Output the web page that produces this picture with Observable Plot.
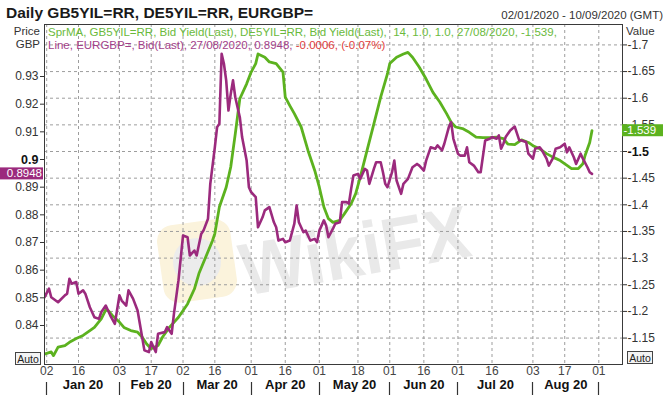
<!DOCTYPE html>
<html><head><meta charset="utf-8">
<script src="https://cdn.jsdelivr.net/npm/d3@7"></script>
<script src="https://cdn.jsdelivr.net/npm/@observablehq/plot@0.6"></script>
<style>
html,body{margin:0;padding:0;background:#fff;}
svg{display:block;}
</style>
</head><body><div id="chart"></div>
<script>
// ---- data ----
const eurgbpDates = [
"2020-01-01","2020-01-03","2020-01-04","2020-01-07","2020-01-10","2020-01-11","2020-01-12","2020-01-13","2020-01-15","2020-01-16",
"2020-01-18","2020-01-19","2020-01-21","2020-01-23","2020-01-25","2020-01-26","2020-01-28","2020-01-30","2020-02-01","2020-02-03",
"2020-02-04","2020-02-06","2020-02-07","2020-02-09","2020-02-11","2020-02-12","2020-02-14","2020-02-16","2020-02-17","2020-02-19",
"2020-02-20","2020-02-23","2020-02-24","2020-02-26","2020-02-27","2020-02-29","2020-03-02","2020-03-04","2020-03-05","2020-03-07",
"2020-03-08","2020-03-10","2020-03-11","2020-03-13","2020-03-14","2020-03-16","2020-03-17","2020-03-18","2020-03-19","2020-03-20",
"2020-03-21","2020-03-22","2020-03-23","2020-03-24","2020-03-25","2020-03-27","2020-03-28","2020-03-30","2020-03-31","2020-04-01",
"2020-04-03","2020-04-04","2020-04-06","2020-04-07","2020-04-09","2020-04-11","2020-04-12","2020-04-13","2020-04-15","2020-04-16",
"2020-04-18","2020-04-20","2020-04-21","2020-04-22","2020-04-24","2020-04-25","2020-04-27","2020-04-29","2020-04-30","2020-05-01",
"2020-05-03","2020-05-04","2020-05-05","2020-05-07","2020-05-08","2020-05-10","2020-05-11","2020-05-13","2020-05-14","2020-05-15",
"2020-05-16","2020-05-18","2020-05-19","2020-05-21","2020-05-22","2020-05-23","2020-05-25","2020-05-26","2020-05-28","2020-05-29",
"2020-05-30","2020-05-31","2020-06-02","2020-06-03","2020-06-04","2020-06-06","2020-06-07","2020-06-09","2020-06-11","2020-06-13",
"2020-06-14","2020-06-16","2020-06-17","2020-06-19","2020-06-21","2020-06-22","2020-06-24","2020-06-25","2020-06-27","2020-06-28",
"2020-06-29","2020-07-01","2020-07-02","2020-07-04","2020-07-05","2020-07-06","2020-07-08","2020-07-10","2020-07-11","2020-07-13",
"2020-07-15","2020-07-16","2020-07-18","2020-07-19","2020-07-20","2020-07-21","2020-07-22","2020-07-24","2020-07-26","2020-07-28",
"2020-07-29","2020-07-31","2020-08-01","2020-08-03","2020-08-04","2020-08-06","2020-08-07","2020-08-09","2020-08-10","2020-08-12",
"2020-08-13","2020-08-15","2020-08-17","2020-08-18","2020-08-19","2020-08-21","2020-08-22","2020-08-24","2020-08-25","2020-08-27",
"2020-08-28","2020-08-29"];
const eurgbpValues = [
0.8502,0.8533,0.8502,0.8484,0.8509,0.8515,0.8569,0.8551,0.8557,0.8515,
0.8527,0.8515,0.8466,0.8430,0.8424,0.8448,0.8472,0.8436,0.8406,0.8509,
0.8490,0.8472,0.8527,0.8497,0.8454,0.8406,0.8310,0.8304,0.8340,0.8304,
0.8370,0.8376,0.8394,0.8370,0.8442,0.8563,0.8725,0.8719,0.8653,0.8671,
0.8653,0.8731,0.8743,0.8786,0.8912,0.9044,0.9117,0.9129,0.9382,0.9346,
0.9286,0.9177,0.9237,0.9286,0.9225,0.9153,0.9081,0.8996,0.8900,0.8882,
0.8864,0.8755,0.8791,0.8816,0.8828,0.8773,0.8755,0.8707,0.8713,0.8701,
0.8707,0.8768,0.8834,0.8773,0.8737,0.8743,0.8707,0.8713,0.8701,0.8743,
0.8780,0.8761,0.8719,0.8750,0.8768,0.8773,0.8846,0.8846,0.8840,0.8894,
0.8942,0.8948,0.8930,0.8966,0.8960,0.8912,0.8966,0.8990,0.8990,0.8954,
0.8912,0.8900,0.8954,0.8996,0.8924,0.8876,0.8912,0.8930,0.8972,0.8984,
0.8978,0.8960,0.8996,0.9044,0.9039,0.9051,0.9033,0.9057,0.9117,0.9135,
0.9075,0.9021,0.9014,0.9014,0.9044,0.8990,0.8978,0.8954,0.8954,0.9069,
0.9075,0.9081,0.9075,0.9087,0.9039,0.9057,0.9081,0.9105,0.9119,0.9069,
0.9069,0.9063,0.9021,0.9003,0.9039,0.9044,0.9033,0.9003,0.8978,0.9008,
0.9039,0.9044,0.9057,0.9026,0.9044,0.9008,0.8984,0.9021,0.9003,0.8972,
0.8954,0.8948];

const spreadDates = [
"2020-01-01","2020-01-04","2020-01-05","2020-01-07","2020-01-10","2020-01-12","2020-01-15","2020-01-18","2020-01-21","2020-01-23",
"2020-01-26","2020-01-28","2020-01-29","2020-01-31","2020-02-03","2020-02-05","2020-02-08","2020-02-11","2020-02-13","2020-02-15",
"2020-02-17","2020-02-20","2020-02-22","2020-02-25","2020-02-29","2020-03-04","2020-03-07","2020-03-09","2020-03-12","2020-03-15",
"2020-03-16","2020-03-18","2020-03-21","2020-03-23","2020-03-25","2020-03-27","2020-03-30","2020-04-01","2020-04-03","2020-04-04",
"2020-04-07","2020-04-09","2020-04-12","2020-04-15","2020-04-16","2020-04-18","2020-04-20","2020-04-23","2020-04-26","2020-04-29",
"2020-05-01","2020-05-03","2020-05-05","2020-05-07","2020-05-10","2020-05-12","2020-05-15","2020-05-17","2020-05-19","2020-05-22",
"2020-05-25","2020-05-28","2020-05-31","2020-06-01","2020-06-04","2020-06-07","2020-06-09","2020-06-11","2020-06-14","2020-06-17",
"2020-06-20","2020-06-23","2020-06-26","2020-06-28","2020-06-30","2020-07-03","2020-07-06","2020-07-09","2020-07-12","2020-07-15",
"2020-07-18","2020-07-21","2020-07-23","2020-07-26","2020-07-29","2020-08-01","2020-08-03","2020-08-06","2020-08-09","2020-08-12",
"2020-08-15","2020-08-18","2020-08-20","2020-08-23","2020-08-25","2020-08-26","2020-08-28","2020-08-29"];
const spreadValues = [
-1.120,-1.124,-1.117,-1.133,-1.136,-1.142,-1.149,-1.155,-1.164,-1.170,
-1.186,-1.203,-1.202,-1.192,-1.180,-1.170,-1.164,-1.161,-1.152,-1.139,
-1.130,-1.136,-1.152,-1.170,-1.189,-1.214,-1.242,-1.271,-1.302,-1.333,
-1.346,-1.396,-1.433,-1.471,-1.533,-1.599,-1.627,-1.649,-1.665,-1.683,
-1.677,-1.668,-1.665,-1.649,-1.602,-1.586,-1.571,-1.546,-1.502,-1.464,
-1.433,-1.396,-1.374,-1.367,-1.371,-1.383,-1.402,-1.421,-1.452,-1.502,
-1.552,-1.602,-1.646,-1.665,-1.677,-1.683,-1.686,-1.677,-1.658,-1.636,
-1.611,-1.593,-1.571,-1.555,-1.546,-1.543,-1.536,-1.527,-1.526,-1.526,
-1.527,-1.524,-1.514,-1.513,-1.522,-1.517,-1.511,-1.505,-1.496,-1.489,
-1.483,-1.474,-1.468,-1.468,-1.477,-1.493,-1.517,-1.539];

const leftTicks = [0.84,0.85,0.86,0.87,0.88,0.89,0.90,0.91,0.92,0.93];
const rightTicks = [-1.7,-1.65,-1.6,-1.55,-1.5,-1.45,-1.4,-1.35,-1.3,-1.25,-1.2,-1.15];
const xTickDates = ["2020-01-02","2020-01-16","2020-02-03","2020-02-17","2020-03-02","2020-03-16","2020-04-01","2020-04-16",
  "2020-05-01","2020-05-18","2020-06-01","2020-06-16","2020-07-01","2020-07-16","2020-08-03","2020-08-17","2020-09-01"];
const monthBreakDates = ["2020-01-02","2020-02-03","2020-03-02","2020-04-01","2020-05-01","2020-06-01","2020-07-01","2020-08-03","2020-09-01"];
const monthLabels = ["Jan 20","Feb 20","Mar 20","Apr 20","May 20","Jun 20","Jul 20","Aug 20"];
const xDomain = ["2020-01-02","2020-09-01"];
const leftDomain = [0.8259, 0.9488];      // EURGBP at frame bottom / top
const rightDomain = [-1.1004, -1.7383];   // spread at frame bottom / top (inverted axis)
const lastPrice = 0.8948, lastSpread = -1.539;

// ---- build ----
const parse = d3.utcParse("%Y-%m-%d");
const eurgbp = eurgbpDates.map((d, i) => ({date: parse(d), value: eurgbpValues[i]}));
const spread = spreadDates.map((d, i) => ({date: parse(d), value: spreadValues[i]}));
const xTicks = xTickDates.map(parse);
const monthBreaks = monthBreakDates.map(parse);
const monthMids = d3.pairs(monthBreaks).map(([a, b]) => new Date((+a + +b) / 2));
const toLeft = v => leftDomain[0] + (v - rightDomain[0]) / (rightDomain[1] - rightDomain[0]) * (leftDomain[1] - leftDomain[0]);
const fromLeft = p => rightDomain[0] + (p - leftDomain[0]) / (leftDomain[1] - leftDomain[0]) * (rightDomain[1] - rightDomain[0]);
const fmtDay = d3.utcFormat("%d");

const FONT = "'Liberation Sans', Arial, Helvetica, sans-serif";
const GREEN = "#5cb21f", PURPLE = "#9b2a7d";
const gridOpts = {stroke: "#9d9d9d", strokeOpacity: 1, strokeWidth: 1, strokeDasharray: "3,3"};

const chart = Plot.plot({
  width: 666, height: 397,
  marginTop: 24, marginRight: 44, marginBottom: 33, marginLeft: 44,
  style: {fontFamily: FONT, fontSize: "12px", color: "#333", background: "#fff", overflow: "visible"},
  x: {type: "utc", domain: xDomain.map(parse), range: [46.2, 598.3], axis: null, label: null},
  y: {domain: leftDomain, axis: null, label: null},
  marks: [
    Plot.gridX(xTicks, gridOpts),
    Plot.gridY(rightTicks.map(toLeft), gridOpts),
    Plot.line(spread, {x: "date", y: d => toLeft(d.value), stroke: GREEN, strokeWidth: 2.8, clip: true}),
    Plot.line(eurgbp, {x: "date", y: "value", stroke: PURPLE, strokeWidth: 2.6, clip: true}),
    Plot.frame({stroke: "#3a3a3a"}),
    Plot.axisY(leftTicks, {anchor: "left", label: null, tickSize: 4, tickPadding: 2, fontSize: 12, color: "#333",
      tickFormat: d => d === 0.9 ? "" : d.toFixed(2)}),
    Plot.text([0.9], {y: d => d, frameAnchor: "left", dx: -6, textAnchor: "end", text: () => "0.9",
      fontWeight: "bold", fontSize: 12.5, fill: "#111"}),
    Plot.axisY(rightTicks.map(toLeft), {anchor: "right", label: null, tickSize: 4, tickPadding: 1, fontSize: 12, color: "#333",
      tickFormat: p => { const v = +fromLeft(p).toFixed(2); return v === -1.5 ? "" : String(v); }}),
    Plot.text([toLeft(-1.5)], {y: d => d, frameAnchor: "right", dx: 5, textAnchor: "start", text: () => "-1.5",
      fontWeight: "bold", fontSize: 12.5, fill: "#111"}),
    Plot.text(xTicks, {x: d => d, frameAnchor: "bottom", dy: 10, text: d => fmtDay(d), fontSize: 12, fill: "#444"}),
    Plot.text(monthMids, {x: d => d, frameAnchor: "bottom", dy: 24.5, text: (d, i) => monthLabels[i],
      fontSize: 13, fontWeight: "bold", fill: "#111"})
  ]
});
document.getElementById("chart").appendChild(chart);

// ---- decorations drawn with the chart's own scales ----
const svg = d3.select(chart);
const xs = chart.scale("x"), ys = chart.scale("y");

// faint watermark behind the marks
const wm = svg.insert("g", "g").attr("pointer-events", "none").attr("text-anchor", "start");
wm.append("rect").attr("x", 160).attr("y", 222).attr("width", 74).attr("height", 78).attr("rx", 16)
  .attr("fill", "#fbf3dc").attr("transform", "rotate(-8 197 261)");
wm.append("circle").attr("cx", 197).attr("cy", 262).attr("r", 24).attr("fill", "#ececec");
wm.append("text").attr("x", 245).attr("y", 296).attr("transform", "rotate(-10 245 296)")
  .attr("font-family", FONT).attr("font-size", 74).attr("font-weight", "bold")
  .attr("fill", "#e9e9e9").attr("textLength", 232).attr("lengthAdjust", "spacingAndGlyphs").text("WikiFX");

const deco = svg.append("g").attr("font-family", FONT).attr("text-anchor", "start");
// title and date range
deco.append("text").attr("x", 6).attr("y", 18).attr("font-size", 15.5).attr("font-weight", "bold")
  .attr("fill", "#1a1a1a").text("Daily GB5YIL=RR, DE5YIL=RR, EURGBP=");
deco.append("text").attr("x", 663).attr("y", 18.5).attr("text-anchor", "end").attr("font-size", 11.5)
  .attr("fill", "#333").text("02/01/2020 - 10/09/2020 (GMT)");
// axis captions
deco.append("text").attr("x", 40).attr("y", 34.5).attr("text-anchor", "end").attr("font-size", 11.5).attr("fill", "#333").text("Price");
deco.append("text").attr("x", 40).attr("y", 48).attr("text-anchor", "end").attr("font-size", 11.5).attr("fill", "#333").text("GBP");
deco.append("text").attr("x", 626).attr("y", 35).attr("font-size", 11.5).attr("fill", "#333").text("Value");
// legend lines
deco.append("text").attr("x", 48).attr("y", 35.5).attr("font-size", 11.5).attr("fill", "#6aba3c")
  .attr("xml:space", "preserve")
  .text("SprMA, GB5YIL=RR, Bid Yield(Last), DE5YIL=RR, Bid Yield(Last),  14, 1.0, 1.0, 27/08/2020, -1.539,");
const l2 = deco.append("text").attr("x", 48).attr("y", 48.5).attr("font-size", 11.5);
l2.append("tspan").attr("fill", "#a3418a").text("Line, EURGBP=, Bid(Last), 27/08/2020, 0.8948, ");
l2.append("tspan").attr("fill", "#e0403c").text("-0.0006, (-0.07%)");

// last-value boxes
const yl = ys.apply(lastPrice);
deco.append("rect").attr("x", 0).attr("y", yl - 6).attr("width", 43).attr("height", 12).attr("fill", PURPLE);
deco.append("text").attr("x", 42).attr("y", yl + 4).attr("text-anchor", "end").attr("font-size", 11.5)
  .attr("fill", "#fff").text(lastPrice.toFixed(4));
const yr = ys.apply(toLeft(lastSpread));
deco.append("rect").attr("x", 622).attr("y", yr - 6).attr("width", 41).attr("height", 12).attr("fill", GREEN);
deco.append("text").attr("x", 623.5).attr("y", yr + 4).attr("font-size", 11.5).attr("fill", "#fff").text(String(lastSpread));

// Auto buttons
[[15.5, 352.5], [627.5, 351.5]].forEach(([x, y]) => {
  deco.append("rect").attr("x", x).attr("y", y).attr("width", 25).attr("height", 12)
    .attr("fill", "#f3f3f3").attr("stroke", "#444").attr("stroke-width", 1);
  deco.append("text").attr("x", x + 12.5).attr("y", y + 10).attr("text-anchor", "middle")
    .attr("font-size", 10.5).attr("fill", "#222").text("Auto");
});

// month separators
monthBreaks.forEach(d => {
  const x = Math.round(xs.apply(d)) + 0.5;
  deco.append("line").attr("x1", x).attr("x2", x).attr("y1", 382).attr("y2", 395)
    .attr("stroke", "#333").attr("stroke-width", 1.2);
});
</script>
</body></html>
